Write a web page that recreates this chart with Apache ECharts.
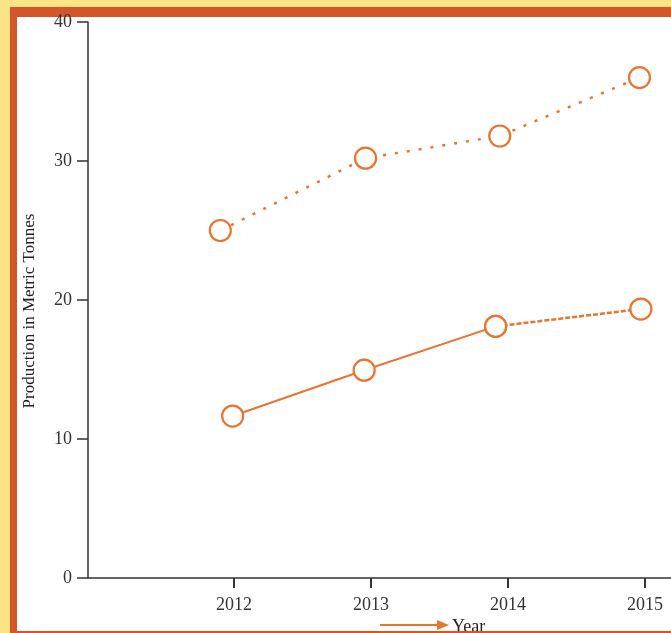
<!DOCTYPE html>
<html><head><meta charset="utf-8">
<script src="https://cdn.jsdelivr.net/npm/echarts@6/dist/echarts.min.js"></script>
<style>html,body{margin:0;padding:0;background:#FBE486;}#c{width:671px;height:633px;}</style>
</head><body><div id="c"></div>
<script>
var yearTicks = [2012, 2013, 2014, 2015];
var yTicks = [0, 10, 20, 30, 40];
var upperYears = [2011.90, 2012.96, 2013.94, 2014.96];
var upperValues = [25.0, 30.2, 31.8, 36.0];
var lowerSolidYears = [2011.99, 2012.95, 2013.91];
var lowerSolidValues = [11.65, 14.95, 18.1];
var lowerDashYears = [2013.91, 2014.97];
var lowerDashValues = [18.1, 19.35];

var orange = '#E8742F';
var font = '"Liberation Serif", "DejaVu Serif", serif';
function pairs(xs, ys){ return xs.map(function(x,i){ return [x, ys[i]]; }); }

var chart = echarts.init(document.getElementById('c'), null, {renderer:'canvas'});
var markerStyle = {color:'#fff', borderColor: orange, borderWidth: 2.2};
chart.setOption({
  animation: false,
  backgroundColor: 'transparent',
  grid: {left: 88, top: 22, right: 0, bottom: 55},
  graphic: [
    {type:'rect', z:-10, shape:{x:0,y:0,width:671,height:633}, style:{fill:'#FBE486'}},
    {type:'rect', z:-9, shape:{x:10,y:7,width:661,height:626}, style:{fill:'#D4552A'}},
    {type:'rect', z:-8, shape:{x:17,y:17,width:654,height:614}, style:{fill:'#ffffff'}},
    {type:'text', z:5, x:30, y:311, rotation: Math.PI/2,
      style:{text:'Production in Metric Tonnes', font:'17px ' + font, fill:'#222', align:'center', verticalAlign:'middle'}},
    {type:'line', z:5, shape:{x1:380,y1:625,x2:440,y2:625}, style:{stroke:orange, lineWidth:2}},
    {type:'polygon', z:5, shape:{points:[[437,620],[449,625],[437,630]]}, style:{fill:orange}},
    {type:'text', z:5, x:452, y:627, style:{text:'Year', font:'18px ' + font, fill:'#222', align:'left', verticalAlign:'middle'}},
    {type:'rect', z:100, shape:{x:10,y:631,width:661,height:2}, style:{fill:'#D4552A'}}
  ],
  xAxis: {
    type:'value', min: 2010.934, max: 2015.19,
    splitLine:{show:false},
    axisLine:{show:true, onZero:false, lineStyle:{color:'#333', width:1.5}},
    axisTick:{show:true, customValues: yearTicks, length:10, lineStyle:{color:'#333', width:2}},
    axisLabel:{show:true, customValues: yearTicks, margin:18, color:'#333', fontSize:18, fontFamily: font,
      formatter: function(v){ return String(Math.round(v)); }}
  },
  yAxis: {
    type:'value', min: 0, max: 40, interval: 10,
    splitLine:{show:false},
    axisLine:{show:true, lineStyle:{color:'#333', width:1.5}},
    axisTick:{show:true, length:11, lineStyle:{color:'#333', width:1.5}},
    axisLabel:{margin:16, color:'#333', fontSize:18, fontFamily: font}
  },
  series: [
    {type:'line', data: pairs(upperYears, upperValues), symbol:'circle', symbolSize:21,
      lineStyle:{color:orange, width:2.5, type:[3,9]}, itemStyle: markerStyle, z:3},
    {type:'line', data: pairs(lowerSolidYears, lowerSolidValues), symbol:'circle', symbolSize:21,
      lineStyle:{color:orange, width:2}, itemStyle: markerStyle, z:3},
    {type:'line', data: pairs(lowerDashYears, lowerDashValues), symbol:'circle', symbolSize:21,
      lineStyle:{color:orange, width:2.5, type:[5,2]}, itemStyle: markerStyle, z:3}
  ]
});
</script></body></html>
